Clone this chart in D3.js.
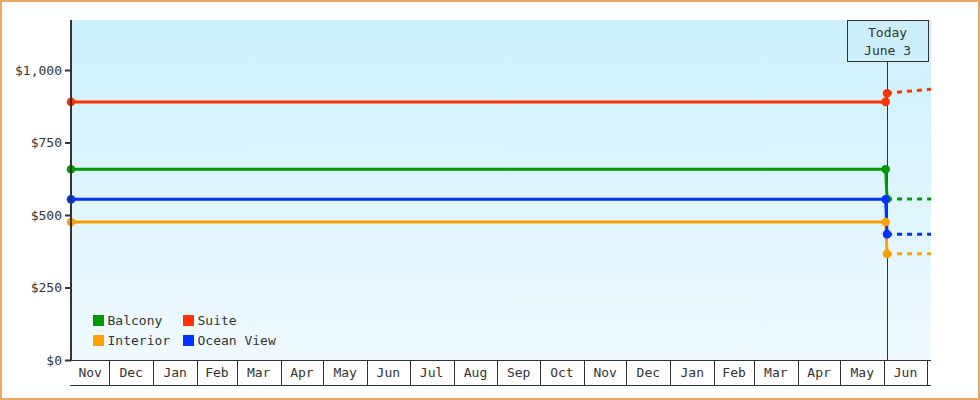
<!DOCTYPE html>
<html>
<head>
<meta charset="utf-8">
<script src="https://cdn.jsdelivr.net/npm/d3@7"></script>
<style>
  html, body { margin: 0; padding: 0; background: #fff; }
  svg { display: block; }
  text { font-family: "DejaVu Sans Mono", monospace; font-size: 13px; fill: #333; }
</style>
</head>
<body>
<svg id="chart" width="980" height="400"></svg>
<script>
// ---- data ----
const seriesNames = ["Balcony", "Suite", "Interior", "Ocean View"];
const pointDates = ["2013-11-04", "2015-06-02", "2015-06-03", "2015-07-04"];
const balconyPrices   = [658, 658, 555, 555];
const suitePrices     = [890, 890, 920, 934];
const interiorPrices  = [476, 476, 366, 366];
const oceanViewPrices = [554, 554, 434, 434];
const todayDate = "2015-06-03";
const todayLabel = ["Today", "June 3"];
const yTickValues = [0, 250, 500, 750, 1000];
const yMax = 1172.4;

// ---- setup ----
const parse = d3.timeParse("%Y-%m-%d");
const dates = pointDates.map(parse);
const today = parse(todayDate);
const priceLists = {
  "Balcony": balconyPrices,
  "Suite": suitePrices,
  "Interior": interiorPrices,
  "Ocean View": oceanViewPrices
};
const color = d3.scaleOrdinal()
  .domain(seriesNames)
  .range(["#009900", "#ff3300", "#ffa000", "#0033ff"]);

const svg = d3.select("#chart");
const margin = { left: 71, right: 49, top: 20, bottom: 40 };
const W = 980, H = 400;
const x = d3.scaleTime()
  .domain([dates[0], dates[dates.length - 1]])
  .range([margin.left, W - margin.right]);
const y = d3.scaleLinear()
  .domain([0, yMax])
  .range([H - margin.bottom, margin.top]);

// outer border
svg.append("rect")
  .attr("x", 1).attr("y", 1).attr("width", W - 2).attr("height", H - 2)
  .attr("fill", "#fff").attr("stroke", "#eaa864").attr("stroke-width", 2);

// gradient background
const defs = svg.append("defs");
const grad = defs.append("linearGradient").attr("id", "bg")
  .attr("x1", 0).attr("y1", 0).attr("x2", 0).attr("y2", 1);
grad.append("stop").attr("offset", "0%").attr("stop-color", "#ccf0fc");
grad.append("stop").attr("offset", "100%").attr("stop-color", "#f0faff");

const x0 = x.range()[0], x1 = x.range()[1];
const yb = y(0), yt = y(yMax);
svg.append("rect")
  .attr("x", x0).attr("y", yt).attr("width", x1 - x0).attr("height", yb - yt)
  .attr("fill", "url(#bg)");

// today marker line and box
const tx = x(today);
const boxW = 81, boxH = 41;
svg.append("line")
  .attr("x1", Math.round(tx) + 0.5).attr("x2", Math.round(tx) + 0.5)
  .attr("y1", yt + boxH).attr("y2", yb)
  .attr("stroke", "#333").attr("stroke-width", 1);
svg.append("rect")
  .attr("x", Math.round(tx - boxW / 2) + 0.5).attr("y", yt + 0.5)
  .attr("width", boxW).attr("height", boxH)
  .attr("fill", "#cdeffb").attr("stroke", "#333").attr("stroke-width", 1);
svg.append("text").attr("x", tx + 0.5).attr("y", yt + 17)
  .attr("text-anchor", "middle").text(todayLabel[0]);
svg.append("text").attr("x", tx + 0.5).attr("y", yt + 35)
  .attr("text-anchor", "middle").text(todayLabel[1]);

// series
const line = d3.line().x(d => x(d.date)).y(d => y(d.value));
seriesNames.forEach(name => {
  const pts = dates.map((d, i) => ({ date: d, value: priceLists[name][i] }));
  const solid = pts.slice(0, 3);
  const future = pts.slice(2);
  svg.append("path").datum(future)
    .attr("d", line).attr("fill", "none")
    .attr("stroke", color(name)).attr("stroke-width", 3)
    .attr("stroke-dasharray", "5,5");
  svg.append("path").datum(solid)
    .attr("d", line).attr("fill", "none")
    .attr("stroke", color(name)).attr("stroke-width", 3);
});
seriesNames.forEach(name => {
  const pts = dates.map((d, i) => ({ date: d, value: priceLists[name][i] })).slice(0, 3);
  svg.selectAll(null).data(pts).enter().append("circle")
    .attr("cx", d => x(d.date)).attr("cy", d => y(d.value)).attr("r", 4.3)
    .attr("fill", color(name));
});

// y axis
const yAxis = d3.axisLeft(y).tickValues(yTickValues).tickSize(6).tickPadding(3)
  .tickFormat(d3.format("$,.0f"));
const ga = svg.append("g").attr("transform", `translate(${x0},0)`).call(yAxis);
ga.select(".domain").remove();
ga.selectAll(".tick line").attr("stroke", "#333").attr("stroke-width", 2);
ga.selectAll(".tick text").attr("font-family", "DejaVu Sans Mono").attr("font-size", 13).attr("fill", "#333");
svg.append("line").attr("x1", x0).attr("x2", x0).attr("y1", yt).attr("y2", yb)
  .attr("stroke", "#333").attr("stroke-width", 2);

// x axis month boxes
const boxBottom = yb + 25;
const gx = svg.append("g");
gx.append("line").attr("x1", x0 - 1).attr("x2", x1).attr("y1", yb + 0.5).attr("y2", yb + 0.5)
  .attr("stroke", "#333").attr("stroke-width", 1);
gx.append("line").attr("x1", x0 - 1).attr("x2", x1).attr("y1", boxBottom + 0.5).attr("y2", boxBottom + 0.5)
  .attr("stroke", "#333").attr("stroke-width", 1);
const monthStarts = d3.timeMonth.range(d3.timeMonth.ceil(x.domain()[0]), x.domain()[1]);
gx.selectAll("line.b").data(monthStarts).enter().append("line")
  .attr("x1", d => Math.round(x(d)) + 0.5).attr("x2", d => Math.round(x(d)) + 0.5)
  .attr("y1", yb).attr("y2", boxBottom)
  .attr("stroke", "#333").attr("stroke-width", 1);
const months = d3.timeMonth.range(d3.timeMonth.floor(x.domain()[0]), x.domain()[1])
  .map(m => {
    const a = m < x.domain()[0] ? x.domain()[0] : m;
    const n = d3.timeMonth.offset(m, 1);
    const b = n > x.domain()[1] ? x.domain()[1] : n;
    return { m, a, b };
  })
  .filter(d => x(d.b) - x(d.a) > 20);
gx.selectAll("text").data(months).enter().append("text")
  .attr("x", d => (x(d.a) + x(d.b)) / 2)
  .attr("y", yb + 17)
  .attr("text-anchor", "middle")
  .text(d => d3.timeFormat("%b")(d.m));

// legend
const legendItems = [["Balcony", 0, 0], ["Suite", 1, 0], ["Interior", 0, 1], ["Ocean View", 1, 1]];
const lg = svg.append("g").attr("transform", `translate(${x0 + 22},${yb - 45})`);
legendItems.forEach(([name, col, row]) => {
  const g = lg.append("g").attr("transform", `translate(${col * 90},${row * 20})`);
  g.append("rect").attr("x", 0).attr("y", 0).attr("width", 11).attr("height", 11)
    .attr("fill", color(name));
  g.append("text").attr("x", 14.5).attr("y", 10).text(name);
});
</script>
</body>
</html>
